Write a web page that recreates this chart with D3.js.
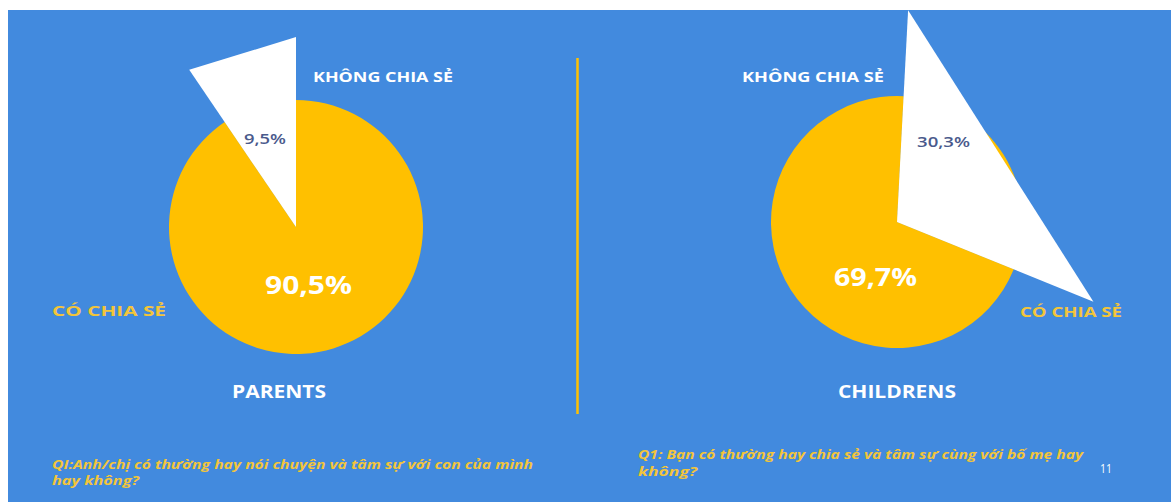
<!DOCTYPE html>
<html>
<head>
<meta charset="utf-8">
<script src="https://cdn.jsdelivr.net/npm/d3@7"></script>
<style>
  html, body { margin: 0; padding: 0; background: #ffffff; }
  svg { display: block; }
  text { font-family: "Open Sans", "Noto Sans", sans-serif; }
</style>
</head>
<body>
<svg id="chart" width="1171" height="504"></svg>
<script>
// Survey answers: "không chia sẻ" (do not share) vs "có chia sẻ" (do share)
const groups = ["PARENTS", "CHILDRENS"];
const answerLabels = ["KHÔNG CHIA SẺ", "CÓ CHIA SẺ"];
const parentsValues = [9.5, 90.5];
const childrenValues = [30.3, 69.7];
const valueLabels = [["9,5%", "90,5%"], ["30,3%", "69,7%"]];
const questionLines = [
  ["QI:Anh/chị có thường hay nói chuyện và tâm sự với con của mình", "hay không?"],
  ["Q1: Bạn có thường hay chia sẻ và tâm sự cùng với bố mẹ hay", "không?"]
];
const pageNumber = "11";

const W = 1171, H = 504;
const BLUE = "#428ade", YELLOW = "#ffc000", LABEL_YELLOW = "#f3c53a",
      SLATE = "#4a5a8c", WHITE = "#ffffff";

const svg = d3.select("#chart");

// slide background
svg.append("rect").attr("x", 8).attr("y", 10).attr("width", W - 8).attr("height", 492).attr("fill", BLUE);

// vertical divider between the two panels
svg.append("line")
  .attr("x1", 577.5).attr("x2", 577.5).attr("y1", 58).attr("y2", 414)
  .attr("stroke", YELLOW).attr("stroke-width", 2.5);

const deg = Math.PI / 180;

// per-panel layout
const panels = [
  { values: parentsValues, cx: 296, cy: 227, r: 127, R: 190,
    start: -parentsValues[0] / 100 * 360 * deg },
  { values: childrenValues, cx: 897, cy: 222, r: 126, R: 212,
    start: 3 * deg }
];

panels.forEach((p, i) => {
  const pie = d3.pie().sort(null).value(d => d)
    .startAngle(p.start).endAngle(p.start + 2 * Math.PI);
  const slices = pie(p.values);
  const g = svg.append("g").attr("transform", `translate(${p.cx},${p.cy})`);

  // "có chia sẻ" share as a yellow disc slice
  const arc = d3.arc().innerRadius(0).outerRadius(p.r);
  g.append("path").attr("d", arc(slices[1])).attr("fill", YELLOW);
  // the gap behind the pulled-out wedge is also yellow in this design
  g.append("path")
    .attr("d", arc({ startAngle: slices[0].startAngle, endAngle: slices[0].endAngle }))
    .attr("fill", YELLOW);

  // "không chia sẻ" share as an enlarged straight-edged wedge
  const pts = [[0, 0],
    d3.pointRadial(slices[0].startAngle, p.R),
    d3.pointRadial(slices[0].endAngle, p.R)];
  g.append("path").attr("d", d3.line()(pts) + "Z").attr("fill", WHITE);
});

function label(txt, x, baseline, size, color, width, opts = {}) {
  const t = svg.append("text")
    .attr("x", x).attr("y", baseline)
    .attr("font-size", size)
    .attr("font-weight", opts.weight || 700)
    .attr("font-style", opts.italic ? "italic" : "normal")
    .attr("fill", color)
    .text(txt);
  if (width) t.attr("textLength", width).attr("lengthAdjust", "spacingAndGlyphs");
  return t;
}

// left panel texts
label(answerLabels[0], 313, 82, 14, WHITE, 140);
label(valueLabels[0][0], 244, 144, 14, SLATE, 42, { weight: 600 });
label(valueLabels[0][1], 265, 294, 25, WHITE, 87);
label(answerLabels[1], 52, 316, 14, LABEL_YELLOW, 114);
label(groups[0], 232, 398, 17, WHITE, 94);
label(questionLines[0][0], 52, 469, 13, LABEL_YELLOW, 481, { italic: true });
label(questionLines[0][1], 52, 485, 13, LABEL_YELLOW, 87, { italic: true });

// right panel texts
label(answerLabels[0], 742, 82, 14, WHITE, 142);
label(valueLabels[1][0], 917, 147, 15, SLATE, 53, { weight: 600 });
label(valueLabels[1][1], 834, 286, 25, WHITE, 83);
label(answerLabels[1], 1020, 317, 14, LABEL_YELLOW, 102);
label(groups[1], 838, 398, 17, WHITE, 118);
label(questionLines[1][0], 638, 459, 13, LABEL_YELLOW, 445, { italic: true });
label(questionLines[1][1], 638, 476, 13, LABEL_YELLOW, 59, { italic: true });

label(pageNumber, 1100, 473, 13, WHITE, 12, { weight: 400 });
</script>
</body>
</html>
